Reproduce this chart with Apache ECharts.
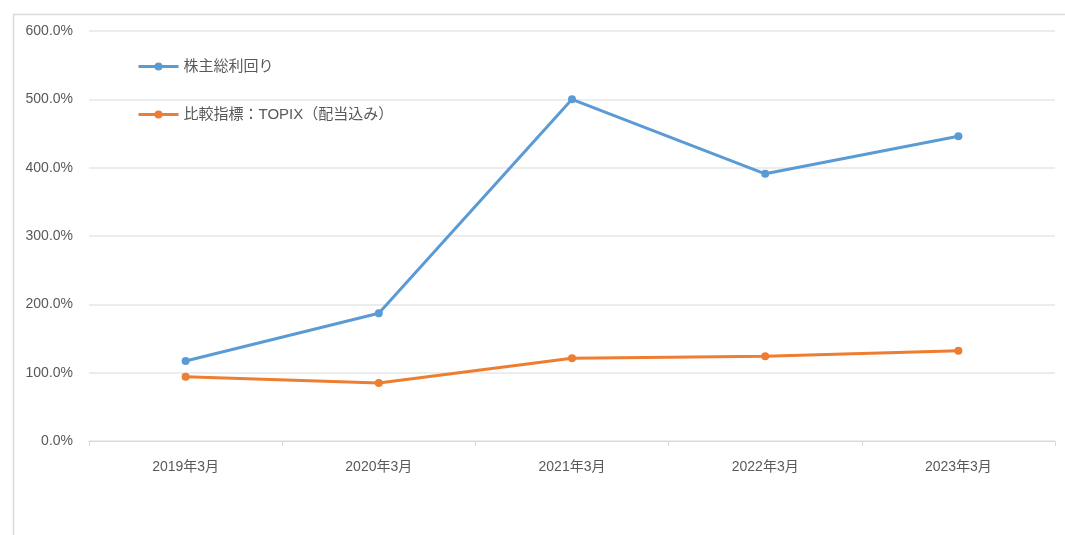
<!DOCTYPE html>
<html><head><meta charset="utf-8">
<script src="https://cdn.jsdelivr.net/npm/echarts@6/dist/echarts.min.js"></script>
<style>html,body{margin:0;padding:0;background:#fff;}#c{width:1065px;height:535px;}</style>
</head><body><div id="c"></div>
<script>
const categories = ['2019年3月','2020年3月','2021年3月','2022年3月','2023年3月'];
const tsrValues = [117, 187, 500, 391, 446];
const topixValues = [94, 85, 121, 124, 132];
const seriesNames = ['株主総利回り','比較指標：TOPIX（配当込み）'];
const FONT = '"Liberation Sans","Noto Sans CJK JP",sans-serif';
const chart = echarts.init(document.getElementById('c'));
chart.setOption({
  animation:false,
  backgroundColor:'#fff',
  graphic:[{type:'rect',left:11,top:12,shape:{width:1070,height:540},style:{fill:'none',stroke:'#d9d9d9',lineWidth:1.5},silent:true}],
  grid:{left:89,right:10,top:31,bottom:94},
  legend:{
    orient:'vertical',left:132,top:54,itemGap:33,itemWidth:40,itemHeight:10,
    textStyle:{color:'#595959',fontSize:15,fontFamily:FONT},
    lineStyle:{width:3},
    data:seriesNames
  },
  xAxis:{
    type:'category',data:categories,boundaryGap:true,
    axisLine:{lineStyle:{color:'#d9d9d9'}},
    axisTick:{show:true,length:5,lineStyle:{color:'#d9d9d9'}},
    axisLabel:{color:'#595959',fontSize:14,fontFamily:FONT,margin:19}
  },
  yAxis:{
    type:'value',min:0,max:600,interval:100,
    axisLine:{show:false},axisTick:{show:false},
    splitLine:{lineStyle:{color:'#e6e6e6',width:1.5}},
    axisLabel:{color:'#595959',fontSize:14,fontFamily:FONT,margin:16,formatter:v=>v.toFixed(1)+'%'}
  },
  series:[
    {name:seriesNames[0],type:'line',data:tsrValues,symbol:'circle',symbolSize:8,
     lineStyle:{width:3,color:'#5b9bd5'},itemStyle:{color:'#5b9bd5'}},
    {name:seriesNames[1],type:'line',data:topixValues,symbol:'circle',symbolSize:8,
     lineStyle:{width:3,color:'#ed7d31'},itemStyle:{color:'#ed7d31'}}
  ]
});
</script></body></html>
